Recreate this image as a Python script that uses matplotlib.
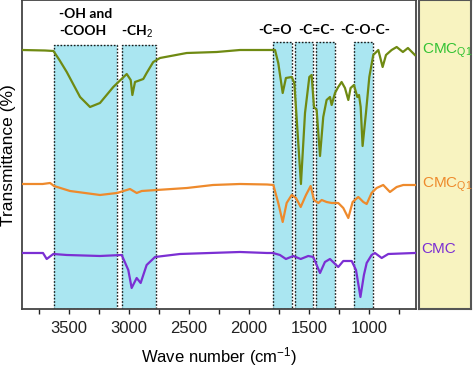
import matplotlib
matplotlib.use("Agg")

import matplotlib.pyplot as plt
import numpy as np

plt.rcParams["font.family"] = ["Liberation Sans", "DejaVu Sans"]
plt.rcParams["mathtext.fontset"] = "custom"
plt.rcParams["mathtext.rm"] = "Liberation Sans"
plt.rcParams["mathtext.it"] = "Liberation Sans"
plt.rcParams["mathtext.bf"] = "Liberation Sans:bold"

# --- spectra (wavenumber cm-1, transmittance a.u.) ---
wn_q1_green = [3890, 3700, 3630, 3580, 3519, 3408, 3325, 3242, 3131, 3019, 2986, 2972,
               2950, 2881, 2853, 2798, 2742, 2519, 2269, 2075, 1850, 1783, 1756, 1719,
               1692, 1644, 1622, 1600, 1567, 1533, 1497, 1478, 1458, 1436, 1408, 1381,
               1353, 1325, 1311, 1283, 1256, 1228, 1200, 1172, 1153, 1125, 1097, 1083,
               1069, 1053, 1025, 997, 964, 922, 886, 858, 811, 769, 717, 675, 617]
t_q1_green = [259, 258.5, 258, 249, 237, 212, 202, 206, 222, 235, 229, 214,
              227, 230, 236, 247, 251, 256, 257, 259, 259, 259, 246, 216,
              231, 232, 226, 186, 125, 196, 232, 234, 202, 199, 153, 192,
              209, 212, 204, 216, 222, 227, 221, 209, 221, 224, 212, 214,
              202, 163, 196, 232, 254, 259, 242, 254, 259, 262, 257, 261, 254]

wn_q1_orange = [3890, 3720, 3658, 3625, 3492, 3242, 3100, 2992, 2936, 2894, 2769, 2517,
                2300, 2075, 1850, 1797, 1756, 1719, 1686, 1644, 1608, 1569, 1525, 1486,
                1458, 1422, 1394, 1353, 1311, 1256, 1214, 1172, 1136, 1089, 1047, 1019,
                978, 936, 881, 825, 769, 714, 617]
t_q1_orange = [125, 125, 126, 123, 118, 114, 116, 120, 116, 118, 119, 121,
               124, 125, 124.5, 124, 106, 87, 106, 114, 111, 102, 114, 123,
               109, 106, 109, 107, 106, 106, 101, 91, 107, 112, 107, 105,
               116, 121, 124, 117, 122, 124, 124]

wn_cmc = [3890, 3717, 3686, 3631, 3519, 3242, 3061, 3006, 2978, 2936, 2903, 2853,
          2783, 2575, 2075, 1850, 1800, 1742, 1692, 1631, 1569, 1506, 1464, 1408,
          1367, 1325, 1256, 1214, 1144, 1108, 1071, 1042, 1019, 978, 950, 894, 839, 617]
t_cmc = [56, 56, 50, 55, 54, 53, 54, 39, 21, 31, 26, 44,
         52, 55, 57, 56, 56, 54, 50, 53, 50, 53, 52, 36,
         47, 50, 42, 48, 48, 39, 12, 34, 46, 54, 56, 51, 55, 56]

# functional group bands (cm-1)
band_left = [3625, 3058, 1800, 1617, 1442, 1125]
band_right = [3100, 2775, 1642, 1467, 1283, 967]
band_top = [264, 264, 267, 267, 267, 267]

group_labels = ["-OH and\n-COOH", "-CH$_2$", "-C=O", "-C=C-", "-C-O-C-"]
group_x = [3580, 2933, 1783, 1433, 1033]
group_y = [286, 277, 279, 279, 279]
group_ha = ["left", "center", "center", "center", "center"]

series_names = ["CMC$_{\\mathregular{Q1}}$", "CMC$_{\\mathregular{Q1}}$", "CMC"]
series_colors = ["#6f8a12", "#ee8a2c", "#7b2fd3"]
name_colors = ["#33c233", "#ee8a2c", "#7b2fd3"]
name_y = [258, 124, 60]

fig = plt.figure(figsize=(4.74, 3.70), dpi=100)
ax = fig.add_axes([0.0464, 0.1649, 0.8312, 0.8351])
side = fig.add_axes([0.884, 0.1649, 0.110, 0.8351])

for l, r, top in zip(band_left, band_right, band_top):
    ax.fill_between([l, r], 0, top, facecolor="#aae6f1", edgecolor="none", zorder=1)
    ax.plot([l, l, r, r, l], [0, top, top, 0, 0], ls=(0, (1.2, 1.2)), color="#1a1a1a",
            lw=1.0, zorder=2)

ax.plot(wn_q1_green, t_q1_green, color=series_colors[0], lw=1.6, zorder=3)
ax.plot(wn_q1_orange, t_q1_orange, color=series_colors[1], lw=1.6, zorder=3)
ax.plot(wn_cmc, t_cmc, color=series_colors[2], lw=1.6, zorder=3)

for txt, x, y, ha in zip(group_labels, group_x, group_y, group_ha):
    ax.text(x, y, txt, ha=ha, va="center", fontsize=10, fontweight="bold",
            family=["Lato", "DejaVu Sans"], linespacing=1.5)

ax.set_xlim(3892, 608)
ax.set_ylim(0, 309)
ax.set_xticks(np.arange(750, 3751, 250))
ax.set_xticklabels([str(v) if v % 500 == 0 else "" for v in np.arange(750, 3751, 250)])
ax.tick_params(axis="x", direction="out", length=3.5, width=1, labelsize=12,
               colors="#222222", pad=5)
ax.set_yticks([])
for s in ax.spines.values():
    s.set_color("#444444")
    s.set_linewidth(1.3)
ax.set_xlabel("Wave number (cm$^{-1}$)", fontsize=12, labelpad=7)
fig.text(0.018, 0.58, "Transmittance (%)", rotation=90, ha="center", va="center",
         fontsize=12.5)

side.set_facecolor("#f8f3c0")
side.set_xlim(0, 1)
side.set_ylim(0, 309)
side.set_xticks([])
side.set_yticks([])
for s in side.spines.values():
    s.set_color("#555555")
    s.set_linewidth(1.5)
for name, col, y in zip(series_names, name_colors, name_y):
    side.text(0.05, y, name, color=col, fontsize=11, ha="left", va="center", clip_on=False)

fig.savefig("out.png", dpi=100)
